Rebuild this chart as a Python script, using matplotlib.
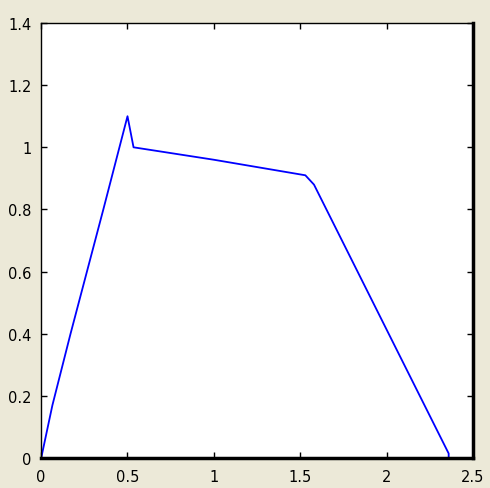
import matplotlib.pyplot as plt

x = [0, 0.065, 0.17, 0.36, 0.5, 0.535, 1.0, 1.53, 1.58, 2.36, 2.36]
y = [0, 0.17, 0.4, 0.8, 1.1, 1.0, 0.96, 0.91, 0.88, 0.015, 0.0]

xticks = [0, 0.5, 1, 1.5, 2, 2.5]
xticklabels = ['0', '0.5', '1', '1.5', '2', '2.5']
yticks = [0, 0.2, 0.4, 0.6, 0.8, 1, 1.2, 1.4]
yticklabels = ['0', '0.2', '0.4', '0.6', '0.8', '1', '1.2', '1.4']

fig = plt.figure(figsize=(4.9, 4.89), dpi=100, facecolor='#ece9d8')
ax = fig.add_axes([0.084, 0.061, 0.881, 0.890])
ax.set_facecolor('white')

ax.plot(x, y, color='#0000ff', linewidth=1.3)

ax.set_xlim(0, 2.5)
ax.set_ylim(0, 1.4)
ax.set_xticks(xticks)
ax.set_xticklabels(xticklabels)
ax.set_yticks(yticks)
ax.set_yticklabels(yticklabels)
ax.tick_params(direction='in', top=True, right=True, length=4, width=1,
               labelsize=10.5)
ax.tick_params(axis='y', pad=7)
ax.tick_params(axis='x', pad=8)

for side in ['left', 'top']:
    ax.spines[side].set_linewidth(1)
for side in ['right', 'bottom']:
    ax.spines[side].set_linewidth(2.5)

plt.savefig('out.png', dpi=100, facecolor=fig.get_facecolor())
